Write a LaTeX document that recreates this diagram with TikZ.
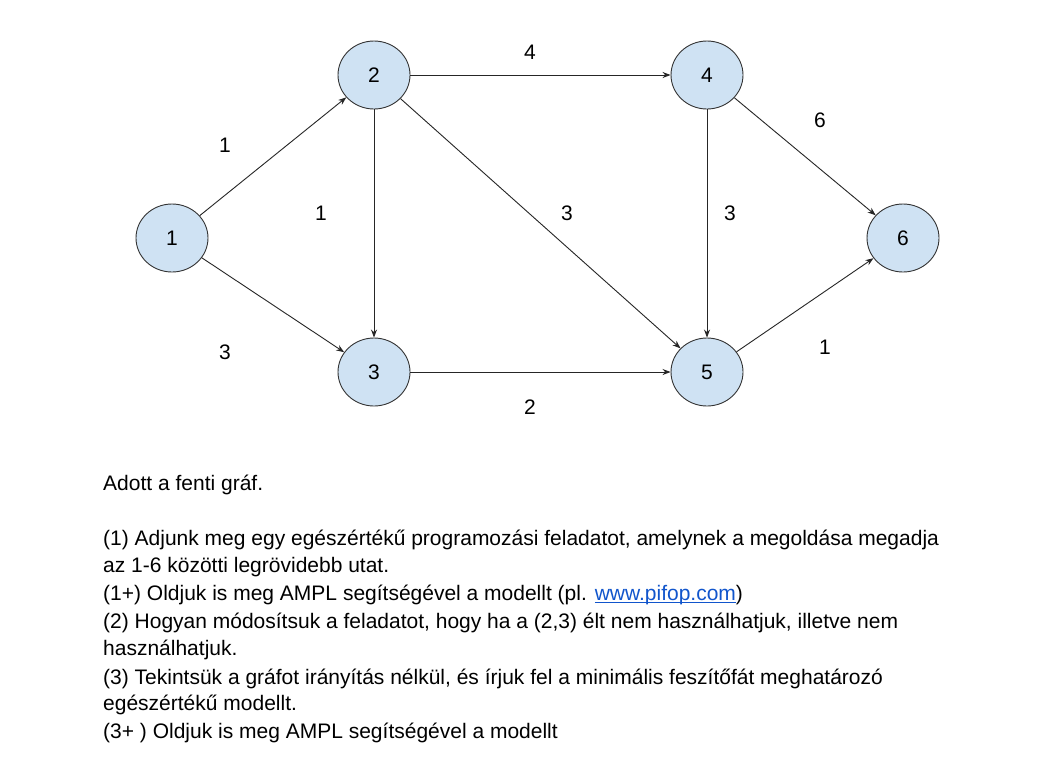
\documentclass[tikz,border=0pt]{standalone}
\usepackage{fontspec}
\setmainfont{Liberation Sans}
\usetikzlibrary{shapes.geometric,arrows.meta}
\definecolor{nodefill}{HTML}{CFE2F3}
\definecolor{nodeline}{HTML}{333333}
\definecolor{linkblue}{HTML}{1155CC}
\newcommand{\myul}[1]{\setbox0\hbox{#1}\rlap{\rule[-2.5pt]{\wd0}{1pt}}#1}
\tikzset{
  vtx/.style={ellipse,draw=nodeline,fill=nodefill,line width=0.9pt,minimum width=72pt,minimum height=68pt,inner sep=0pt,font=\fontsize{21}{24}\selectfont},
  arc/.style={draw=black!85,line width=0.9pt,-{Stealth[length=8pt,width=6pt]}},
  wlab/.style={font=\fontsize{21}{24}\selectfont,inner sep=0pt},
  txt/.style={anchor=base west,inner sep=0pt,font=\fontsize{21}{24}\selectfont}
}
\begin{document}
\begin{tikzpicture}[x=1pt,y=-1pt]
\useasboundingbox[fill=white] (0,0) rectangle (1043,756);
\node[vtx] (n1) at (172,238) {1};
\node[vtx] (n2) at (374,75) {2};
\node[vtx] (n3) at (374,372) {3};
\node[vtx] (n4) at (707,75) {4};
\node[vtx] (n5) at (707,372) {5};
\node[vtx] (n6) at (903,238) {6};
\draw[arc] (n1) -- (n2);
\draw[arc] (n1) -- (n3);
\draw[arc] (n2) -- (n3);
\draw[arc] (n2) -- (n4);
\draw[arc] (n2) -- (n5);
\draw[arc] (n3) -- (n5);
\draw[arc] (n4) -- (n5);
\draw[arc] (n4) -- (n6);
\draw[arc] (n5) -- (n6);
\node[wlab] (l12) at (225,145) {1};
\node[wlab] (l23) at (321,213) {1};
\node[wlab] (l13) at (225,352) {3};
\node[wlab] (l24) at (530,52) {4};
\node[wlab] (l25) at (567,213) {3};
\node[wlab] (l45) at (730,213) {3};
\node[wlab] (l46) at (820,120) {6};
\node[wlab] (l56) at (825,347) {1};
\node[wlab] (l35) at (530,407) {2};
\node[txt] (t0) at (103,490) {Adott a fenti gráf.};
\node[txt] (t1) at (103,545) {(1) Adjunk meg egy egészértékű programozási feladatot, amelynek a megoldása megadja};
\node[txt] (t2) at (103,572) {az 1-6 közötti legrövidebb utat.};
\node[txt] (t3) at (103,600) {(1+) Oldjuk is meg AMPL segítségével a modellt (pl. \textcolor{linkblue}{\myul{www.pifop.com}})};
\node[txt] (t4) at (103,628) {(2) Hogyan módosítsuk a feladatot, hogy ha a (2,3) élt nem használhatjuk, illetve nem};
\node[txt] (t5) at (103,655) {használhatjuk.};
\node[txt] (t6) at (103,684) {(3) Tekintsük a gráfot irányítás nélkül, és írjuk fel a minimális feszítőfát meghatározó};
\node[txt] (t7) at (103,710) {egészértékű modellt.};
\node[txt] (t8) at (103,738) {(3+ ) Oldjuk is meg AMPL segítségével a modellt};
\end{tikzpicture}
\end{document}
